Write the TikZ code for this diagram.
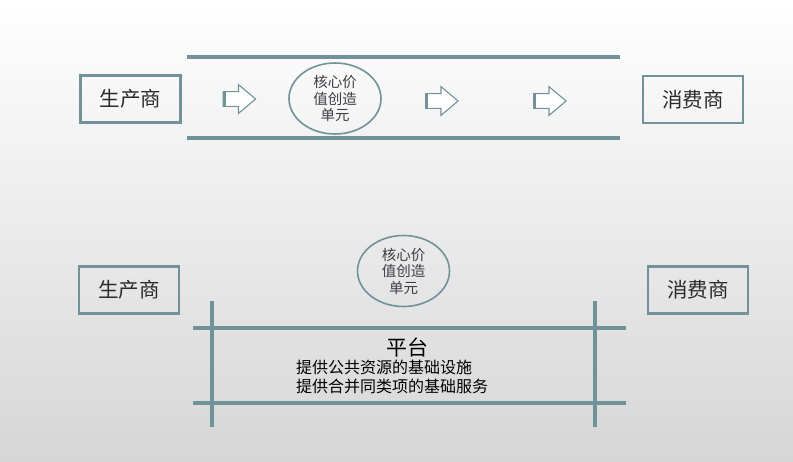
\documentclass[tikz,border=0pt]{standalone}
\usepackage{fontspec}
\setmainfont{Noto Sans CJK SC}
\usetikzlibrary{shapes.geometric,shapes.arrows,positioning}
\definecolor{rail}{HTML}{72929A}
\definecolor{ink}{HTML}{2B2B2B}
\definecolor{softink}{HTML}{3E3E46}
\definecolor{bgtop}{HTML}{FFFFFF}
\definecolor{bgmid}{HTML}{F6F6F6}
\definecolor{bgbot}{HTML}{D6D6D6}

\begin{document}
\begin{tikzpicture}[
    x=1pt, y=-1pt,
    party/.style={draw=rail, line width=2.4pt, minimum width=100pt, minimum height=47pt, inner sep=0pt, text=ink, font=\fontsize{20.5}{24}\selectfont},
    core/.style={ellipse, draw=rail, line width=1.6pt, minimum width=92pt, minimum height=71pt, inner sep=0pt, align=center, text=softink, font=\fontsize{14.5}{16.5}\selectfont},
    blockarrow/.style={single arrow, draw=rail, line width=1.1pt, fill=white, minimum width=0pt, minimum height=0pt, inner xsep=11.3pt, inner ysep=6.8pt, single arrow head extend=7pt, single arrow tip angle=80},
    railline/.style={draw=rail, line width=4pt},
  ]

% --- Background and page size ------------------------------------------------
\shade[top color=bgtop, middle color=bgmid, bottom color=bgbot] (0,0) rectangle (793,461);
\useasboundingbox (0,0) rectangle (793,461);

% --- Upper half: a chain running from producer to consumer ------------------
\node[party] (prodTop) at (130.5,99) {生产商};
\node[party] (consTop) at (693,99.5) {消费商};
\node[core] (coreTop) at (335,98.5) {核心价\\值创造\\单元};

\draw[railline] (187,57) -- (620,57);
\draw[railline] (187,138) -- (620,138);

\foreach \name/\x/\y in {arrA/235/99, arrB/437.5/101, arrC/545.5/101} {
  \node[blockarrow] (\name) at (\x,\y) {};
  \draw[draw=rail, line width=3.2pt] ([xshift=1.6pt]\name.before tail) -- ([xshift=1.6pt]\name.after tail);
}

% --- Lower half: the platform carries the core unit -------------------------
\node[party] (prodBot) at (129,290) {生产商};
\node[party] (consBot) at (698,290) {消费商};
\node[core] (coreBot) at (403.5,271) {核心价\\值创造\\单元};

\draw[railline] (193,328) -- (626,328);
\draw[railline] (193,403) -- (626,403);
\draw[railline] (212,301) -- (212,427);
\draw[railline] (595,301) -- (595,427);

\node[font=\fontsize{21}{24}\selectfont, text=black] (platform) at (407,347) {平台};
\node[anchor=north west, align=left, inner sep=0pt, text=black, font=\fontsize{16}{18.5}\selectfont] (duties) at (296,360)
  {提供公共资源的基础设施\\提供合并同类项的基础服务};

\end{tikzpicture}
\end{document}
